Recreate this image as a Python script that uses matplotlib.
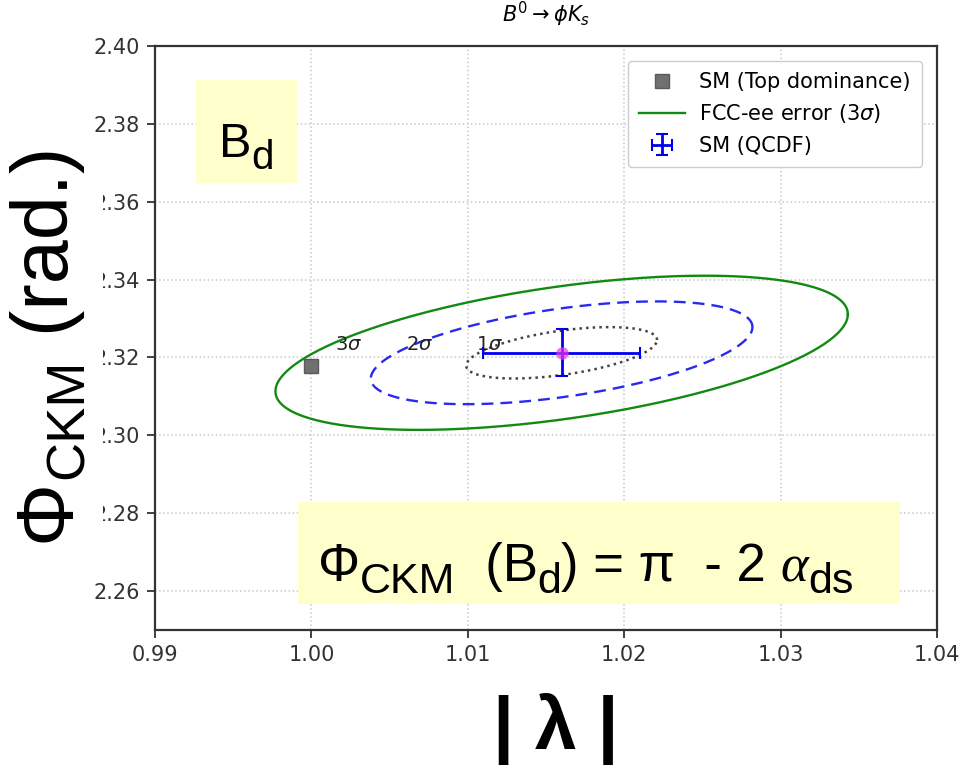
import numpy as np
import matplotlib
matplotlib.use("Agg")
import matplotlib.pyplot as plt
from matplotlib.patches import Rectangle

# Fit result around the SM (QCDF) point
center_lambda = 1.016
center_phi = 2.3212
sigma_lambda = 0.0061
sigma_phi = 0.0066
rho = 0.5
sigma_levels = [1, 2, 3]
level_labels = ["$1\\sigma$", "$2\\sigma$", "$3\\sigma$"]
label_lambda = [1.0114, 1.0069, 1.0024]
label_phi = [2.3233, 2.3233, 2.3233]

# SM (QCDF) point with errors
qcdf_lambda = 1.016
qcdf_phi = 2.3212
qcdf_lambda_err = 0.005
qcdf_phi_err = 0.006

# SM (top dominance)
top_lambda = 1.000
top_phi = 2.3177

x_ticks = [0.99, 1.00, 1.01, 1.02, 1.03, 1.04]
y_ticks = [2.26, 2.28, 2.30, 2.32, 2.34, 2.36, 2.38, 2.40]

W, H = 960, 767
fig = plt.figure(figsize=(W / 100, H / 100), dpi=100)
ax = fig.add_axes([155 / W, 1 - 630 / H, 782 / W, 584 / H])

# Confidence ellipses from the covariance matrix
cov = np.array([[sigma_lambda**2, rho * sigma_lambda * sigma_phi],
                [rho * sigma_lambda * sigma_phi, sigma_phi**2]])
L = np.linalg.cholesky(cov)
t = np.linspace(0, 2 * np.pi, 400)
circle = np.vstack([np.cos(t), np.sin(t)])
styles = {1: dict(color="#444444", ls=":", lw=1.8),
          2: dict(color="#2a2aee", ls="--", lw=1.7, dashes=(5, 3)),
          3: dict(color="#128a12", ls="-", lw=1.7)}
handles = {}
for k in sigma_levels:
    pts = L @ circle * k
    line, = ax.plot(center_lambda + pts[0], center_phi + pts[1], **styles[k])
    handles[k] = line

for lab, lx, ly in zip(level_labels, label_lambda, label_phi):
    ax.text(lx, ly, lab, fontsize=14, ha="center", va="center", color="#222222")

sq, = ax.plot([top_lambda], [top_phi], "s", color="#707070", markersize=10,
              markeredgecolor="#5a5a5a", zorder=4)

eb = ax.errorbar([qcdf_lambda], [qcdf_phi], xerr=[qcdf_lambda_err], yerr=[qcdf_phi_err],
                 fmt="none", ecolor="#0000ee", elinewidth=2, capsize=4, capthick=1.5,
                 zorder=5)
ax.plot([qcdf_lambda], [qcdf_phi], "o", color="#ee33ee", alpha=0.7,
        markersize=9, markeredgewidth=0, zorder=6)

ax.set_xlim(0.99, 1.04)
ax.set_ylim(2.25, 2.40)
ax.set_xticks(x_ticks)
ax.set_yticks(y_ticks)
ax.set_xticklabels([f"{v:.2f}" for v in x_ticks])
ax.set_yticklabels([f"{v:.2f}" for v in y_ticks])
ax.tick_params(labelsize=15, colors="#333333", length=6, width=1.3, pad=5)
for s in ax.spines.values():
    s.set_color("#333333")
    s.set_linewidth(1.6)
ax.grid(True, ls=":", color="#c8c8c8", lw=1.1)
ax.set_axisbelow(True)
ax.set_title("$B^0\\rightarrow\\phi K_s$", fontsize=15, pad=17)

ax.legend([sq, handles[3], eb],
          ["SM (Top dominance)", "FCC-ee error (3$\\sigma$)", "SM (QCDF)"],
          loc="upper right", fontsize=15, framealpha=1, borderpad=0.55,
          handlelength=2.2, handletextpad=0.7, edgecolor="#cccccc",
          borderaxespad=0.7)

renderer = fig.canvas.get_renderer()


def rich_text(x0, y0, pieces, rotation=0, zorder=5):
    """Place text pieces one after another; positions in pixels from top-left.
    Each piece: (string, fontsize, baseline shift in px (down), font kwargs)."""
    pos = 0.0
    for s, size, shift, kw in pieces:
        if rotation == 90:
            x, y = x0 + shift, y0 - pos
        else:
            x, y = x0 + pos, y0 + shift
        txt = fig.text(x / W, 1 - y / H, s, fontsize=size, rotation=rotation,
                       rotation_mode="anchor", ha="left", va="baseline",
                       zorder=zorder, **kw)
        bb = txt.get_window_extent(renderer)
        pos += bb.height if rotation == 90 else bb.width


sans = dict(family="Liberation Sans")
serif_it = dict(family="Liberation Serif", style="italic")
yellow = "#ffffcc"

# "B_d" box
fig.patches.append(Rectangle((196 / W, 1 - 183 / H), 101 / W, 103 / H,
                             transform=fig.transFigure, facecolor=yellow,
                             edgecolor="none", zorder=3))
rich_text(219, 157, [("B", 35, 0, sans), ("d", 29, 12, sans)])

# Formula box
fig.patches.append(Rectangle((298 / W, 1 - 604 / H), 602 / W, 102 / H,
                             transform=fig.transFigure, facecolor=yellow,
                             edgecolor="none", zorder=3))
rich_text(318, 581, [("\u03a6", 38, 0, sans), ("CKM", 31, 12, sans),
                     ("  (B", 38, 0, sans), ("d", 31, 12, sans),
                     (") = \u03c0  - 2 ", 38, 0, sans),
                     ("\u03b1", 38, 0, serif_it), ("ds", 31, 12, sans)])

# Axis titles
fig.patches.append(Rectangle((0, 1 - 570 / H), 103 / W, 420 / H,
                             transform=fig.transFigure, facecolor="white",
                             edgecolor="none", zorder=3))
rich_text(68, 542, [("\u03a6", 57, 0, sans), ("CKM", 39, 15, sans),
                    (" (rad.)", 57, 0, sans)], rotation=90)

fig.text(556 / W, 1 - 749 / H, "| \u03bb |", fontsize=54, fontweight="bold",
         family="Liberation Sans", ha="center", va="baseline")

fig.savefig("out.png", dpi=100)
